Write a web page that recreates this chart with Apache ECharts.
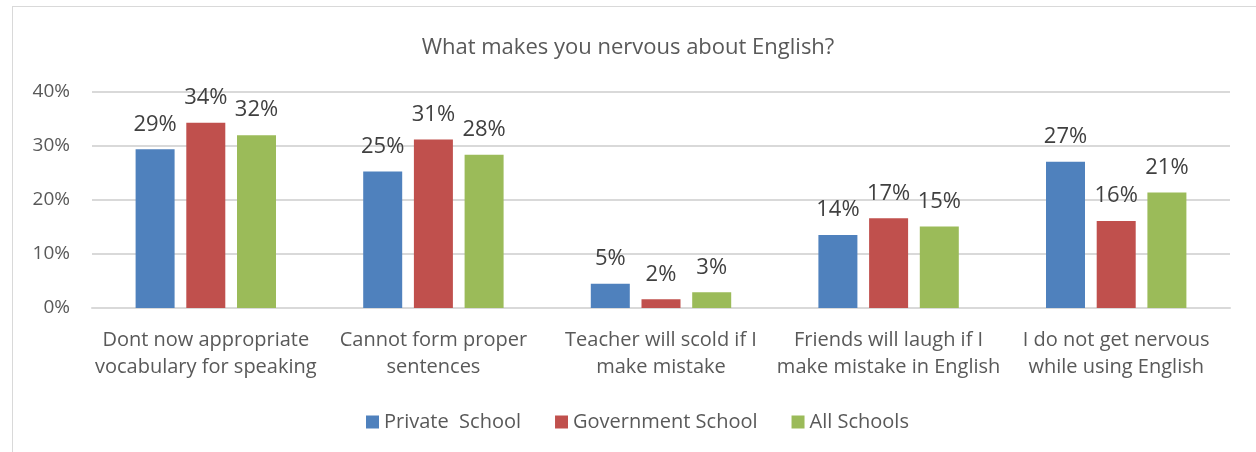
<!DOCTYPE html>
<html><head><meta charset="utf-8">
<script src="https://cdn.jsdelivr.net/npm/echarts@6/dist/echarts.min.js"></script>
<style>html,body{margin:0;padding:0;background:#fff}#c{width:1256px;height:452px}</style>
</head><body><div id="c"></div>
<script>
const categories = ["Dont now appropriate\nvocabulary for speaking","Cannot form proper\nsentences","Teacher will scold if I\nmake mistake","Friends will laugh if I\nmake mistake in English","I do not get nervous\nwhile using English"];
const privateSchool = [29.4, 25.3, 4.5, 13.5, 27.1];
const governmentSchool = [34.3, 31.2, 1.6, 16.6, 16.1];
const allSchools = [32.0, 28.4, 2.9, 15.1, 21.4];
const seriesNames = ["Private  School","Government School","All Schools"];
const colors = ["#4f81bd","#c0504d","#9bbb59"];
const font = "'Open Sans', 'Noto Sans', sans-serif";
const chart = echarts.init(document.getElementById('c'));
const mk = (name, data, color) => ({
  name, type: 'bar', data, barWidth: 39, barGap: '30%',
  itemStyle: {color},
  label: {show: true, position: 'top', distance: 14, formatter: p => Math.round(p.value) + '%',
    fontFamily: font, fontSize: 22, color: '#404040'}
});
chart.setOption({
  animation: false,
  title: {text: 'What makes you nervous about English?', left: 'center', top: 32,
    textStyle: {fontFamily: font, fontSize: 22, fontWeight: 'normal', color: '#595959'}},
  grid: {left: 92, right: 26, top: 92, bottom: 144},
  legend: {bottom: 15, left: 361, itemWidth: 13, itemHeight: 13, itemGap: 34,
    icon: 'rect', textStyle: {fontFamily: font, fontSize: 20, color: '#595959'}},
  xAxis: {type: 'category', data: categories,
    axisLine: {lineStyle: {color: '#d9d9d9', width: 2}}, axisTick: {show: false},
    axisLabel: {interval: 0, fontFamily: font, fontSize: 20, color: '#595959', lineHeight: 27, margin: 19}},
  yAxis: {type: 'value', min: 0, max: 40, interval: 10,
    axisLabel: {formatter: '{value}%', fontFamily: font, fontSize: 19, color: '#595959', margin: 22},
    splitLine: {lineStyle: {color: '#d9d9d9', width: 2}}},
  series: [mk(seriesNames[0], privateSchool, colors[0]), mk(seriesNames[1], governmentSchool, colors[1]), mk(seriesNames[2], allSchools, colors[2])]
});
</script>
<div style="position:absolute;left:12px;top:6px;width:1250px;height:450px;border:1px solid #d9d9d9;border-right:none;border-bottom:none;pointer-events:none"></div>
</body></html>
